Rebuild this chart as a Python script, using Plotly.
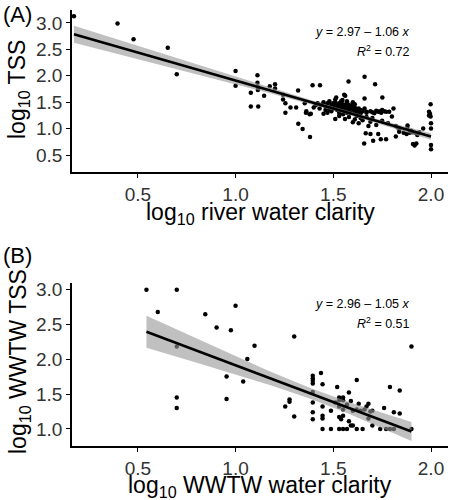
import numpy as np
import plotly.graph_objects as go

# ---------------- Data ----------------
# Panel A: log10 river water clarity vs log10 TSS
a_x = [0.173,0.396,0.478,0.653,0.699,
       1.0,1.0,1.112,1.112,1.116,1.114,1.078,1.078,1.116,1.146,1.175,1.202,1.202,1.243,1.243,1.255,1.255,1.281,1.31,1.32,1.354,1.362,1.379,1.394,1.432,1.321,1.343,1.381,1.36,1.385,
       1.578,1.66,1.714,1.66,1.751,1.561,1.515,1.547,1.556,
       1.67,1.69,1.70,1.72,1.73,1.74,1.75,1.76,1.77,1.71,1.745,
       1.808,1.786,1.80,
       1.998,1.99,1.995,1.99,2.0,2.0,2.0,2.0,1.998,
       1.666,1.69,1.658,1.704,1.73,1.743,1.77,1.82,1.837,1.83,1.879,1.89,1.905,1.92,1.96,1.908,1.916,1.925,1.69,1.72,1.88,1.86,1.875,1.90,1.94,1.93,
       1.51,1.56,1.61,1.58,1.60,1.63,1.65,1.53,1.62,1.64,1.67,1.70,1.75,1.78,1.82,1.84,1.68,
       1.44,1.45,1.46,1.47,1.48,1.48,1.49,1.50,1.50,1.51,1.51,1.52,1.52,1.53,1.53,1.54,1.54,1.55,1.55,1.56,1.56,1.57,1.57,1.58,1.58,1.59,1.59,1.60,1.60,1.61,1.61,1.62,1.62,1.63,1.63,1.64,1.64,1.65,1.46,1.47,1.49,1.43,1.42,1.41,1.45,1.53,1.55,1.57,1.51,1.54,1.57,1.60,1.66,1.67,1.48,1.52,1.56,1.58,1.535,1.50,1.61,1.40]
a_y = [3.13,2.99,2.69,2.53,2.03,
       2.09,1.81,2.01,1.87,1.78,1.73,1.68,1.42,1.42,1.62,1.80,1.84,1.76,1.64,1.55,1.48,1.30,1.40,1.40,1.72,1.48,1.33,1.27,1.82,1.82,1.09,0.99,0.84,1.30,1.28,
       1.89,1.98,1.84,1.57,1.59,1.62,1.59,1.54,1.64,
       1.32,1.33,1.31,1.34,1.32,1.33,1.35,1.33,1.32,1.29,1.30,
       1.38,1.32,1.23,
       1.46,1.32,1.28,1.25,1.10,1.0,0.69,0.61,1.23,
       0.91,0.90,0.72,0.77,0.90,0.80,0.80,0.85,0.94,1.02,1.01,0.92,0.93,0.92,1.0,0.71,0.68,0.72,1.13,1.07,1.06,0.92,0.90,0.96,0.93,0.88,
       1.18,1.18,1.17,1.22,1.12,1.10,1.16,1.24,1.24,1.20,1.22,1.20,1.15,1.10,1.05,1.00,1.05,
       1.45,1.50,1.42,1.48,1.40,1.52,1.45,1.38,1.48,1.42,1.50,1.35,1.45,1.40,1.48,1.43,1.36,1.46,1.40,1.33,1.43,1.38,1.47,1.42,1.35,1.40,1.30,1.37,1.44,1.33,1.40,1.36,1.28,1.38,1.32,1.35,1.29,1.33,1.35,1.30,1.33,1.38,1.48,1.44,1.28,1.30,1.27,1.30,1.55,1.52,1.52,1.50,1.38,1.30,1.36,1.41,1.39,1.45,1.47,1.43,1.46,1.40]

# Panel B: log10 WWTW water clarity vs log10 WWTW TSS
b_x = [0.544,0.699,0.602,0.845,0.903,0.976,1.0,0.699,1.097,1.06,1.30,1.90,
       0.954,0.954,1.039,0.699,0.699,1.254,1.276,1.276,1.30,
       1.395,1.395,1.395,1.395,1.395,1.395,1.395,1.395,
       1.437,1.445,1.445,1.445,1.445,1.445,1.488,1.488,
       1.51,1.53,1.53,1.55,1.53,1.55,1.52,1.55,1.53,1.55,1.54,1.53,1.55,1.57,1.57,1.58,1.59,1.60,1.62,1.58,1.59,1.60,1.62,1.63,1.64,1.62,1.65,1.66,1.67,1.68,1.68,1.70,1.69,1.70,1.74,1.76,1.77,1.79,1.81,1.79,1.81,1.84,1.84,1.90]
b_y = [2.99,2.99,2.67,2.64,2.45,2.41,2.76,2.18,2.19,2.0,2.32,2.18,
       1.75,1.43,1.68,1.45,1.30,1.32,1.42,1.39,1.18,
       1.76,1.72,1.69,1.65,1.53,1.38,1.24,1.14,
       1.80,1.64,1.32,1.19,1.15,1.0,1.0,1.26,
       1.38,1.32,1.45,1.45,1.41,1.41,1.60,1.28,1.17,1.19,1.14,1.0,1.0,1.0,1.35,1.52,1.40,1.26,1.28,1.11,1.05,1.05,1.0,1.36,1.26,1.70,1.0,1.28,1.32,1.15,1.36,1.26,1.25,1.05,1.0,1.30,1.0,1.0,1.0,1.60,1.24,1.22,1.55,1.0]

# reported fits: intercept, slope, R2
a_fit = (2.97, -1.06, 0.72)
b_fit = (2.96, -1.05, 0.51)

x_ticks = [0.5, 1.0, 1.5, 2.0]
a_yticks = [0.5, 1.0, 1.5, 2.0, 2.5, 3.0]
b_yticks = [1.0, 1.5, 2.0, 2.5, 3.0]

FONT = "Liberation Sans, Arial, sans-serif"


def fit_traces(xs, ys, fit, xa, ya):
    xs = np.asarray(xs, float)
    ys = np.asarray(ys, float)
    b0, b1, _ = fit
    n = len(xs)
    xg = np.linspace(xs.min(), xs.max(), 80)
    yg = b0 + b1 * xg
    resid = ys - (b0 + b1 * xs)
    s = np.sqrt(np.sum(resid ** 2) / (n - 2))
    sxx = np.sum((xs - xs.mean()) ** 2)
    se = s * np.sqrt(1.0 / n + (xg - xs.mean()) ** 2 / sxx)
    t = 1.97
    lo, hi = yg - t * se, yg + t * se
    band = go.Scatter(x=np.concatenate([xg, xg[::-1]]), y=np.concatenate([hi, lo[::-1]]),
                      fill="toself", fillcolor="rgba(150,150,150,0.6)", line=dict(width=0),
                      hoverinfo="skip", showlegend=False, xaxis=xa, yaxis=ya)
    line = go.Scatter(x=xg, y=yg, mode="lines", line=dict(color="black", width=2.6),
                      showlegend=False, xaxis=xa, yaxis=ya)
    pts = go.Scatter(x=xs, y=ys, mode="markers", marker=dict(color="black", size=4.5),
                     showlegend=False, xaxis=xa, yaxis=ya)
    return [pts, band, line]


fig = go.Figure()
for tr in fit_traces(a_x, a_y, a_fit, "x", "y"):
    fig.add_trace(tr)
for tr in fit_traces(b_x, b_y, b_fit, "x2", "y2"):
    fig.add_trace(tr)

W, H = 452, 500
left, right = 72, 448
a_top, a_bot = 10, 172
b_top, b_bot = 283, 446

axis_common = dict(showline=True, linecolor="black", linewidth=1.5, ticks="outside",
                   ticklen=4, tickwidth=1.2, tickcolor="black", showgrid=False, zeroline=False,
                   automargin=False,
                   tickfont=dict(family=FONT, size=19, color="#333333"))

fig.update_layout(
    width=W, height=H, margin=dict(l=0, r=0, t=0, b=0, autoexpand=False),
    paper_bgcolor="white", plot_bgcolor="white",
    xaxis=dict(domain=[left / W, right / W], range=[0.163, 2.087], tickvals=x_ticks,
               ticktext=[f"{v:.1f}" for v in x_ticks], anchor="y", **axis_common),
    yaxis=dict(domain=[1 - a_bot / H, 1 - a_top / H], range=[0.178, 3.246], tickvals=a_yticks,
               ticktext=[f"{v:.1f}" for v in a_yticks], anchor="x", **axis_common),
    xaxis2=dict(domain=[left / W, right / W], range=[0.163, 2.087], tickvals=x_ticks,
                ticktext=[f"{v:.1f}" for v in x_ticks], anchor="y2", **axis_common),
    yaxis2=dict(domain=[1 - b_bot / H, 1 - b_top / H], range=[0.757, 3.086], tickvals=b_yticks,
                ticktext=[f"{v:.1f}" for v in b_yticks], anchor="x2", **axis_common),
)


def pann(text, x, y, size, xanchor="center", yanchor="middle", angle=0):
    fig.add_annotation(text=text, x=x / W, y=1 - y / H, xref="paper", yref="paper",
                       showarrow=False, xanchor=xanchor, yanchor=yanchor, textangle=angle,
                       font=dict(family=FONT, size=size, color="black"))


pann("(A)", 1, 14, 22, xanchor="left")
pann("(B)", 1, 255, 22, xanchor="left")
pann("log<sub>10</sub> TSS", 19, 90, 23, angle=-90)
pann("log<sub>10</sub> WWTW TSS", 19, 362, 23, angle=-90)
pann("log<sub>10</sub> river water clarity", 260, 214, 23)
pann("log<sub>10</sub> WWTW water clarity", 260, 486, 23)

pann(f"<i>y</i> = {a_fit[0]:.2f} – {abs(a_fit[1]):.2f} <i>x</i>", 412, 32, 12.5, xanchor="right")
pann(f"<i>R</i><sup>2</sup> = {a_fit[2]:.2f}", 412, 51, 12.5, xanchor="right")
pann(f"<i>y</i> = {b_fit[0]:.2f} – {abs(b_fit[1]):.2f} <i>x</i>", 412, 304, 12.5, xanchor="right")
pann(f"<i>R</i><sup>2</sup> = {b_fit[2]:.2f}", 412, 323, 12.5, xanchor="right")

fig.write_html("out.html", config={"displayModeBar": False},
               post_script="document.body.style.margin='0px';")
